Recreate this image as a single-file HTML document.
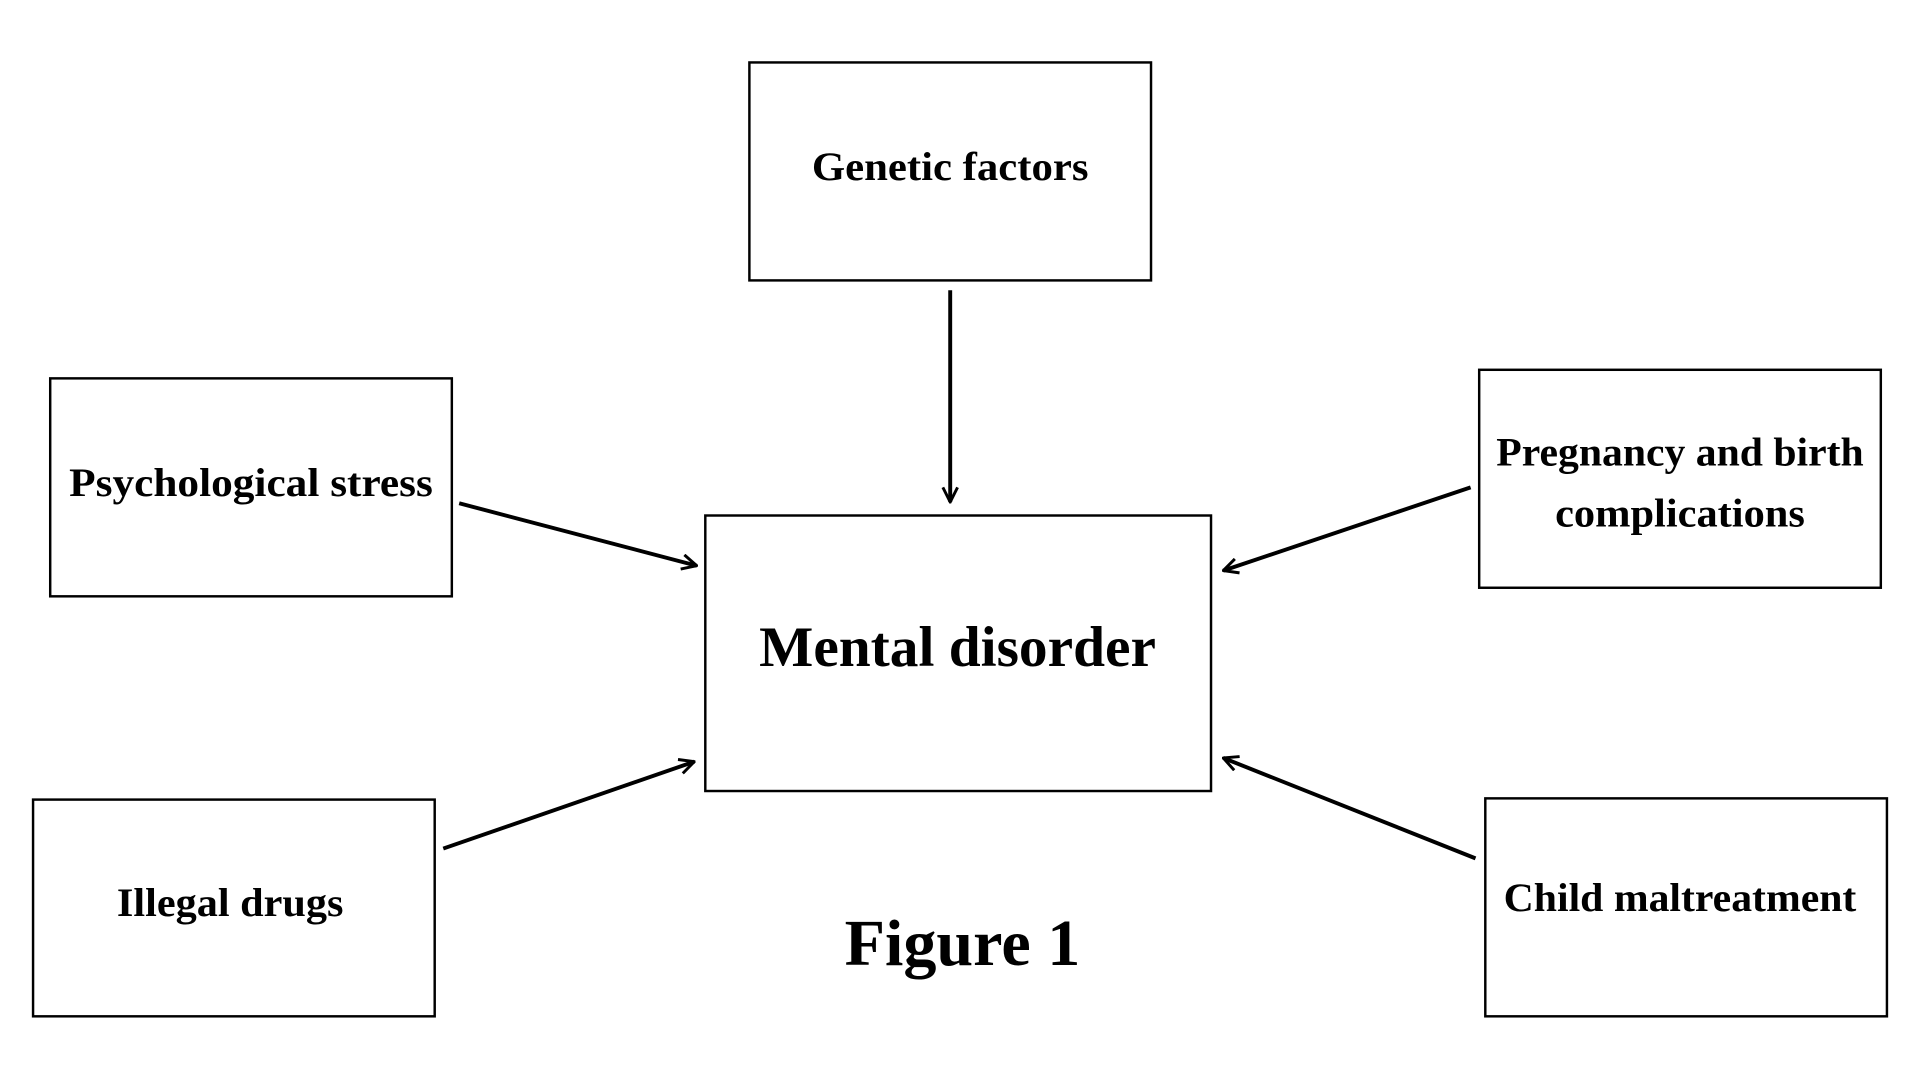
<!DOCTYPE html>
<html><head><meta charset="utf-8"><style>
html,body{margin:0;padding:0;background:#fff;width:1920px;height:1080px;overflow:hidden}
svg{display:block}
text{font-family:"Liberation Serif",serif;font-weight:bold;fill:#000;text-anchor:middle}
</style></head><body>
<svg width="1920" height="1080" viewBox="0 0 1568 882" preserveAspectRatio="none">
<defs>
<marker id="a" viewBox="0 0 14 14" refX="13" refY="7" markerWidth="14" markerHeight="14" markerUnits="userSpaceOnUse" orient="auto">
<path d="M1,1 L13,7 L1,13" fill="none" stroke="#000" stroke-width="2.4"/>
</marker>
</defs>
<g fill="none" stroke="#000" stroke-width="2">
<rect x="612" y="51" width="328" height="178"/>
<rect x="41" y="309" width="328" height="178"/>
<rect x="1208" y="302" width="328" height="178"/>
<rect x="576" y="421" width="413" height="225"/>
<rect x="27" y="653" width="328" height="177"/>
<rect x="1213" y="652" width="328" height="178"/>
</g>
<g stroke="#000" stroke-width="3.2" fill="none" marker-end="url(#a)">
<line x1="776" y1="237" x2="776" y2="410"/>
<line x1="375" y1="411" x2="569" y2="462"/>
<line x1="362" y1="693" x2="567" y2="622"/>
<line x1="1201" y1="398" x2="999" y2="466"/>
<line x1="1205" y1="701" x2="999" y2="619"/>
</g>
<g font-size="33">
<text x="776" y="147" textLength="226" lengthAdjust="spacingAndGlyphs">Genetic factors</text>
<text x="205" y="405" textLength="297" lengthAdjust="spacingAndGlyphs">Psychological stress</text>
<text x="1372" y="380" textLength="300" lengthAdjust="spacingAndGlyphs">Pregnancy and birth</text>
<text x="1372" y="430" textLength="204" lengthAdjust="spacingAndGlyphs">complications</text>
<text x="188" y="748" textLength="185" lengthAdjust="spacingAndGlyphs">Illegal drugs</text>
<text x="1372" y="744" textLength="288" lengthAdjust="spacingAndGlyphs">Child maltreatment</text>
</g>
<text x="782" y="544" font-size="47" textLength="324" lengthAdjust="spacingAndGlyphs">Mental disorder</text>
<text x="786" y="788" font-size="54">Figure 1</text>
</svg>
</body></html>
